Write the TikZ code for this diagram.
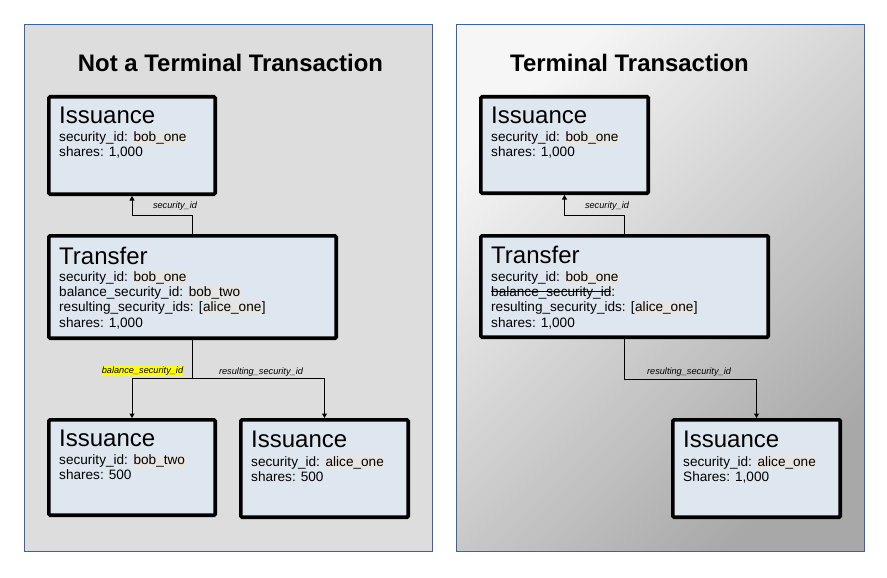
\documentclass[tikz,border=0pt]{standalone}
\usepackage{fontspec}
\setmainfont{Liberation Sans}
\usetikzlibrary{arrows.meta,calc}
\definecolor{panelblue}{HTML}{3465A4}
\definecolor{panelgray}{HTML}{DDDDDD}
\definecolor{gradlight}{HTML}{F6F6F6}
\definecolor{graddark}{HTML}{A8A8A8}
\definecolor{boxfill}{HTML}{DEE6EF}
\definecolor{hlc}{HTML}{E7E5E1}
\definecolor{hly}{HTML}{FFFF00}
\newcommand\hlv[1]{{\setlength{\fboxsep}{0pt}\colorbox{hlc}{\rule[-3.3pt]{0pt}{12.8pt}\kern0.6pt#1\kern0.6pt}}}
\newcommand\hlyel[1]{{\setlength{\fboxsep}{0pt}\colorbox{hly}{\rule[-2.4pt]{0pt}{9.4pt}#1}}}
\newcommand\strk[1]{\setbox0\hbox{#1}\rlap{\rule[4.3pt]{\wd0}{0.9pt}}\box0}
\tikzset{
  panel/.style={draw=panelblue,line width=1pt},
  box/.style={draw=black,line width=3.6pt,fill=boxfill,rounded corners=1.2pt,inner sep=0pt,anchor=north west},
  boxtitle/.style={anchor=base west,inner sep=0pt,font=\fontsize{24}{28}\selectfont},
  field/.style={anchor=base west,inner sep=0pt,font=\fontsize{13.6}{16}\selectfont},
  elabel/.style={inner sep=0pt,font=\fontsize{9.2}{11}\selectfont\itshape},
  conn/.style={line width=1pt,-{Triangle[width=5pt,length=4.5pt]}},
  plain/.style={line width=1pt},
  ptitle/.style={font=\fontsize{23.9}{28}\selectfont\bfseries,anchor=base,inner sep=0pt}
}
\begin{document}
\begin{tikzpicture}[x=1pt,y=-1pt]
\useasboundingbox[fill=white] (0,0) rectangle (887,578);
% panels
\fill[panelgray] (24.5,24.5) rectangle (432.5,551.5);
\draw[panel] (24.5,24.5) rectangle (432.5,551.5);
\shade[top color=gradlight,bottom color=graddark,shading angle=45] (456.5,24.5) rectangle (864,551.5);
\draw[panel] (456.5,24.5) rectangle (864,551.5);
% titles
\node[ptitle] (tleft) at (230.5,72) {Not a Terminal Transaction};
\node[ptitle] (tright) at (629.5,72) {Terminal Transaction};
% ---------- left panel boxes
\node[box,minimum width=166.4pt,minimum height=97.4pt] (li1) at (47,95) {};
\node[box,minimum width=287.4pt,minimum height=102.4pt] (ltr) at (47,234) {};
\node[box,minimum width=166.4pt,minimum height=95.4pt] (li2) at (47,418) {};
\node[box,minimum width=167.4pt,minimum height=97.4pt] (li3) at (239,418) {};
% ---------- right panel boxes
\node[box,minimum width=167.4pt,minimum height=96.4pt] (ri1) at (479,95) {};
\node[box,minimum width=287.4pt,minimum height=101.4pt] (rtr) at (479,234) {};
\node[box,minimum width=167.4pt,minimum height=97.4pt] (ri2) at (671,418) {};
% ---------- texts left
\node[boxtitle] (li1t) at ($(li1.north west)+(12,29)$) {Issuance};
\node[field] (li1a) at ($(li1.north west)+(12,47)$) {security\_id: \hlv{bob\_one}};
\node[field] (li1b) at ($(li1.north west)+(12,62)$) {shares: 1,000};
\node[boxtitle] (ltrt) at ($(ltr.north west)+(12,30)$) {Transfer};
\node[field] (ltra) at ($(ltr.north west)+(12,47)$) {security\_id: \hlv{bob\_one}};
\node[field] (ltrb) at ($(ltr.north west)+(12,62)$) {balance\_security\_id: \hlv{bob\_two}};
\node[field] (ltrc) at ($(ltr.north west)+(12,77)$) {resulting\_security\_ids: [\hlv{alice\_one}]};
\node[field] (ltrd) at ($(ltr.north west)+(12,93)$) {shares: 1,000};
\node[boxtitle] (li2t) at ($(li2.north west)+(12,28)$) {Issuance};
\node[field] (li2a) at ($(li2.north west)+(12,46.5)$) {security\_id: \hlv{bob\_two}};
\node[field] (li2b) at ($(li2.north west)+(12,61.5)$) {shares: 500};
\node[boxtitle] (li3t) at ($(li3.north west)+(12,29.5)$) {Issuance};
\node[field] (li3a) at ($(li3.north west)+(12,48)$) {security\_id: \hlv{alice\_one}};
\node[field] (li3b) at ($(li3.north west)+(12,63)$) {shares: 500};
% ---------- texts right
\node[boxtitle] (ri1t) at ($(ri1.north west)+(12,28.5)$) {Issuance};
\node[field] (ri1a) at ($(ri1.north west)+(12,47)$) {security\_id: \hlv{bob\_one}};
\node[field] (ri1b) at ($(ri1.north west)+(12,62)$) {shares: 1,000};
\node[boxtitle] (rtrt) at ($(rtr.north west)+(12,29.5)$) {Transfer};
\node[field] (rtra) at ($(rtr.north west)+(12,47.5)$) {security\_id: \hlv{bob\_one}};
\node[field] (rtrb) at ($(rtr.north west)+(12,62.5)$) {\strk{balance\_security\_id}:};
\node[field] (rtrc) at ($(rtr.north west)+(12,77.5)$) {resulting\_security\_ids: [\hlv{alice\_one}]};
\node[field] (rtrd) at ($(rtr.north west)+(12,93)$) {shares: 1,000};
\node[boxtitle] (ri2t) at ($(ri2.north west)+(12,29.5)$) {Issuance};
\node[field] (ri2a) at ($(ri2.north west)+(12,48)$) {security\_id: \hlv{alice\_one}};
\node[field] (ri2b) at ($(ri2.north west)+(12,63)$) {Shares: 1,000};
% ---------- connectors left
\draw[conn] (ltr.north) -- ++(0,-19) -| (li1.south);
\draw[plain] (ltr.south) -- ++(0,38.5) coordinate (lsplit);
\draw[conn] (lsplit) -| (li2.north);
\draw[conn] (lsplit) -| (li3.north);
% ---------- connectors right
\draw[conn] (rtr.north) -- ++(0,-19) -| (ri1.south);
\draw[conn] (rtr.south) -- ++(0,40) -| (ri2.north);
% ---------- labels
\node[elabel] (lab1) at (175,206) {security\_id};
\node[elabel] (lab2) at (142.5,371) {\hlyel{balance\_security\_id}};
\node[elabel] (lab3) at (261,372) {resulting\_security\_id};
\node[elabel] (lab4) at (607,206) {security\_id};
\node[elabel] (lab5) at (689,372) {resulting\_security\_id};
\end{tikzpicture}
\end{document}
